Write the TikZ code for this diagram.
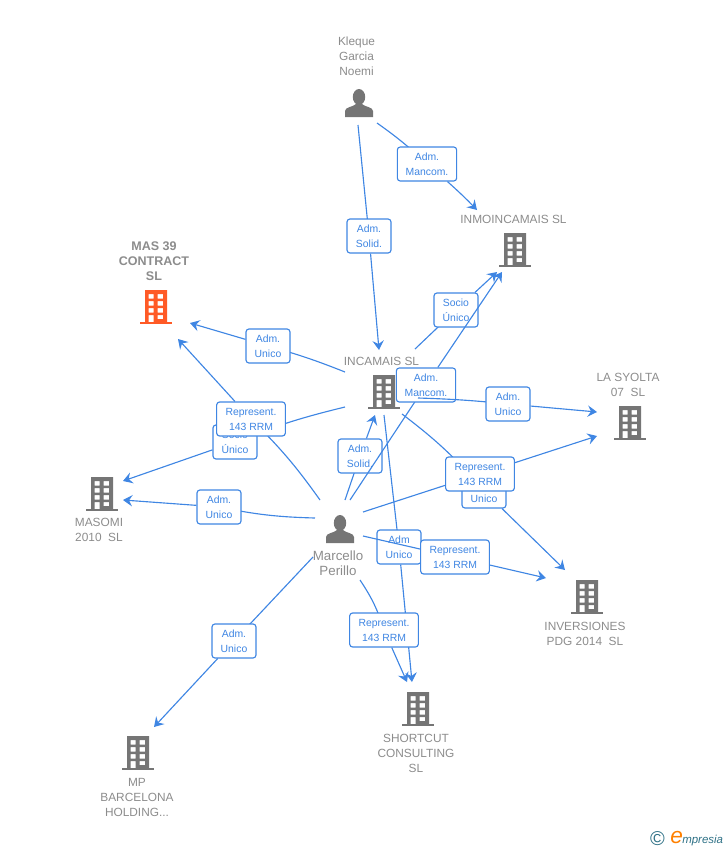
\documentclass[tikz,border=0pt]{standalone}
\usepackage{fontspec}
\setmainfont{Liberation Sans}
\usetikzlibrary{arrows.meta}
\definecolor{linkblue}{HTML}{3F86E3}
\definecolor{iconc}{HTML}{757575}
\definecolor{redc}{HTML}{FF5A26}
\definecolor{capc}{HTML}{8C8C8C}
\definecolor{logoc}{HTML}{2F7186}
\tikzset{
  link/.style={linkblue,line width=0.85pt,-{Stealth[length=7pt,width=8.5pt,inset=2.5pt]}},
  plainlink/.style={linkblue,line width=0.85pt},
  role/.style={draw=linkblue,line width=0.85pt,fill=white,rounded corners=2.2pt,text=linkblue,
    font=\fontsize{7.8}{11.25}\selectfont,align=center,inner sep=0pt,minimum height=25.5pt},
  roleS/.style={role,minimum width=33pt},
  roleM/.style={role,minimum width=44.5pt},
  roleL/.style={role,minimum width=51.5pt},
  captext/.style={text=capc,font=\fontsize{8.9}{11.25}\selectfont,align=center,inner sep=0pt},
  building/.pic={
    \fill[pic actions,even odd rule] (-11,-17) rectangle (11,15)
      (-7.5,-13) rectangle (-2.5,-8.5) (1.5,-13) rectangle (7,-8.5)
      (-7.5,-6) rectangle (-2.5,-1.5) (1.5,-6) rectangle (7,-1.5)
      (-7.5,1) rectangle (-2.5,5.5) (1.5,1) rectangle (7,5.5)
      (-7.5,8) rectangle (-2.5,15) (1.5,8) rectangle (7,12);
    \fill[pic actions] (-16,14.6) rectangle (16,17);
  },
  person/.pic={
    \fill[pic actions] (0,-6) ellipse (6.2 and 8);
    \fill[pic actions] (-14,14) -- (-14,8) .. controls (-14,4) and (-6,4) .. (-3,1)
      -- (3,1) .. controls (6,4) and (14,4) .. (14,8) -- (14,14) -- cycle;
  }
}
\begin{document}
\begin{tikzpicture}[x=0.75pt,y=-0.75pt]
\useasboundingbox (0,0) rectangle (728,850);
% icons
\pic[fill=iconc] at (359,103) {person};
\pic[fill=iconc] at (340,529) {person};
\pic[fill=iconc] at (515,250) {building};
\pic[fill=redc] at (156,307) {building};
\pic[fill=iconc] at (384,392) {building};
\pic[fill=iconc] at (630,423) {building};
\pic[fill=iconc] at (102,494) {building};
\pic[fill=iconc] at (587,597) {building};
\pic[fill=iconc] at (418,709) {building};
\pic[fill=iconc] at (138,753) {building};
% captions
\node[captext] (kleque) at (356.5,56.5) {Kleque\\Garcia\\Noemi};
\node[captext] (inmo) at (513.5,219) {INMOINCAMAIS SL};
\node[captext,font=\bfseries\fontsize{9.4}{11.25}\selectfont] (mas39) at (154,261) {MAS 39\\CONTRACT\\SL};
\node[captext] (incamais) at (381.5,361) {INCAMAIS SL};
\node[captext] (syolta) at (628,385) {LA SYOLTA\\07\ \ SL};
\node[captext] (masomi) at (99,530) {MASOMI\\2010\ \ SL};
\node[captext,font=\fontsize{10}{11.25}\selectfont] (marcello) at (338,563) {Marcello\\Perillo};
\node[captext] (invers) at (585,634) {INVERSIONES\\PDG 2014\ \ SL};
\node[captext] (shortcut) at (416,753) {SHORTCUT\\CONSULTING\\SL};
\node[captext] (mpb) at (137,797) {MP\\BARCELONA\\HOLDING...};
% free ends of the connectors
\coordinate (kA) at (358,125);
\coordinate (kB) at (377,123);
\coordinate (mA) at (345,500);
\coordinate (mB) at (350,500);
\coordinate (mC) at (320,500);
\coordinate (mD) at (363,512);
\coordinate (mE) at (363,536);
\coordinate (mF) at (360,580);
\coordinate (mG) at (313,557);
\coordinate (mH) at (315,518);
\coordinate (iA) at (345,372);
\coordinate (iB) at (345,407);
\coordinate (iC) at (418,398);
\coordinate (iD) at (402,414);
\coordinate (iE) at (384,415);
\coordinate (iF) at (415,349);
\coordinate (toIncaA) at (379,350);
\coordinate (toIncaB) at (375,415);
\coordinate (toInmoA) at (477,210);
\coordinate (toInmoB) at (497,272);
\coordinate (toInmoC) at (502,272);
\coordinate (toMasA) at (190,323);
\coordinate (toMasB) at (178,339);
\coordinate (toMsA) at (123,481);
\coordinate (toMsB) at (123,500);
\coordinate (toSyA) at (597,412);
\coordinate (toSyB) at (597,436);
\coordinate (toInvA) at (565,570);
\coordinate (toInvB) at (546,578);
\coordinate (toShA) at (412,682);
\coordinate (toShB) at (407,682);
\coordinate (toMp) at (154,727);
% Kleque
\draw[plainlink] (kA) -- (369,236);
\node[roleS] (solidK) at (369,236) {Adm.\\Solid.};
\draw[link] (solidK) -- (toIncaA);
\draw[plainlink] (kB) to[bend left=4] (427,164);
\node[roleM] (mancomK) at (427,164) {Adm.\\Mancom.};
\draw[link] (mancomK) to[bend left=2] (toInmoA);
% Incamais
\draw[plainlink] (iF) -- (456,310);
\node[roleS] (socioI) at (456,310) {Socio\\Único};
\draw[link] (socioI) -- (toInmoB);
\draw[plainlink] (iA) to[bend right=3] (268,346);
\node[roleS] (unicoI) at (268,346) {Adm.\\Unico};
\draw[link] (unicoI) -- (toMasA);
\draw[plainlink] (iB) to[bend right=4] (235,442);
\node[roleS] (socioM) at (235,442) {Socio\\Único};
\draw[link] (socioM) -- (toMsA);
% Marcello
\draw[plainlink] (mA) -- (360,456);
\node[roleS] (solidM) at (360,456) {Adm.\\Solid.};
\draw[link] (solidM) -- (toIncaB);
\draw[plainlink] (mB) -- (426,385);
\node[roleM] (mancomM) at (426,385) {Adm.\\Mancom.};
\draw[link] (mancomM) -- (toInmoC);
\draw[plainlink] (iC) to[bend left=2] (508,404);
\node[roleS] (unicoS) at (508,404) {Adm.\\Unico};
\draw[link] (unicoS) -- (toSyA);
\draw[plainlink] (iD) to[bend left=6] (484,491);
\node[roleS] (unicoV) at (484,491) {Adm.\\Unico};
\draw[link] (unicoV) -- (toInvA);
\draw[plainlink] (mD) -- (480,474);
\node[roleL] (repS) at (480,474) {Represent.\\143 RRM};
\draw[link] (repS) -- (toSyB);
\draw[plainlink] (iE) -- (399,547);
\node[roleS] (unicoC) at (399,547) {Adm\\Unico};
\draw[link] (unicoC) -- (toShA);
\draw[plainlink] (mE) -- (455,557);
\node[roleL] (repV) at (455,557) {Represent.\\143 RRM};
\draw[link] (repV) -- (toInvB);
\draw[plainlink] (mF) to[bend left=8] (384,630);
\node[roleL] (repC) at (384,630) {Represent.\\143 RRM};
\draw[link] (repC) -- (toShB);
\draw[plainlink] (mG) -- (234,641);
\node[roleS] (unicoP) at (234,641) {Adm.\\Unico};
\draw[link] (unicoP) -- (toMp);
\draw[plainlink] (mH) to[bend left=5] (219,507);
\node[roleS] (unicoM) at (219,507) {Adm.\\Unico};
\draw[link] (unicoM) -- (toMsB);
\draw[plainlink] (mC) to[bend right=5] (251,419);
\node[roleL] (repM) at (251,419) {Represent.\\143 RRM};
\draw[link] (repM) -- (toMasB);
% logo
\node[inner sep=0pt,text=logoc,font=\fontsize{15}{16}\selectfont] (logoa) at (657.5,839) {\textcopyright};
\node[inner sep=0pt,anchor=base west,text=logoc,font=\itshape\fontsize{8.6}{12}\selectfont] (logob) at (682,843) {mpresia};
\node[inner sep=0pt,anchor=base east,text=orange,font=\itshape\fontsize{17}{15}\selectfont] (logoe) at ([xshift=1pt]logob.base west) {e};
\end{tikzpicture}
\end{document}
